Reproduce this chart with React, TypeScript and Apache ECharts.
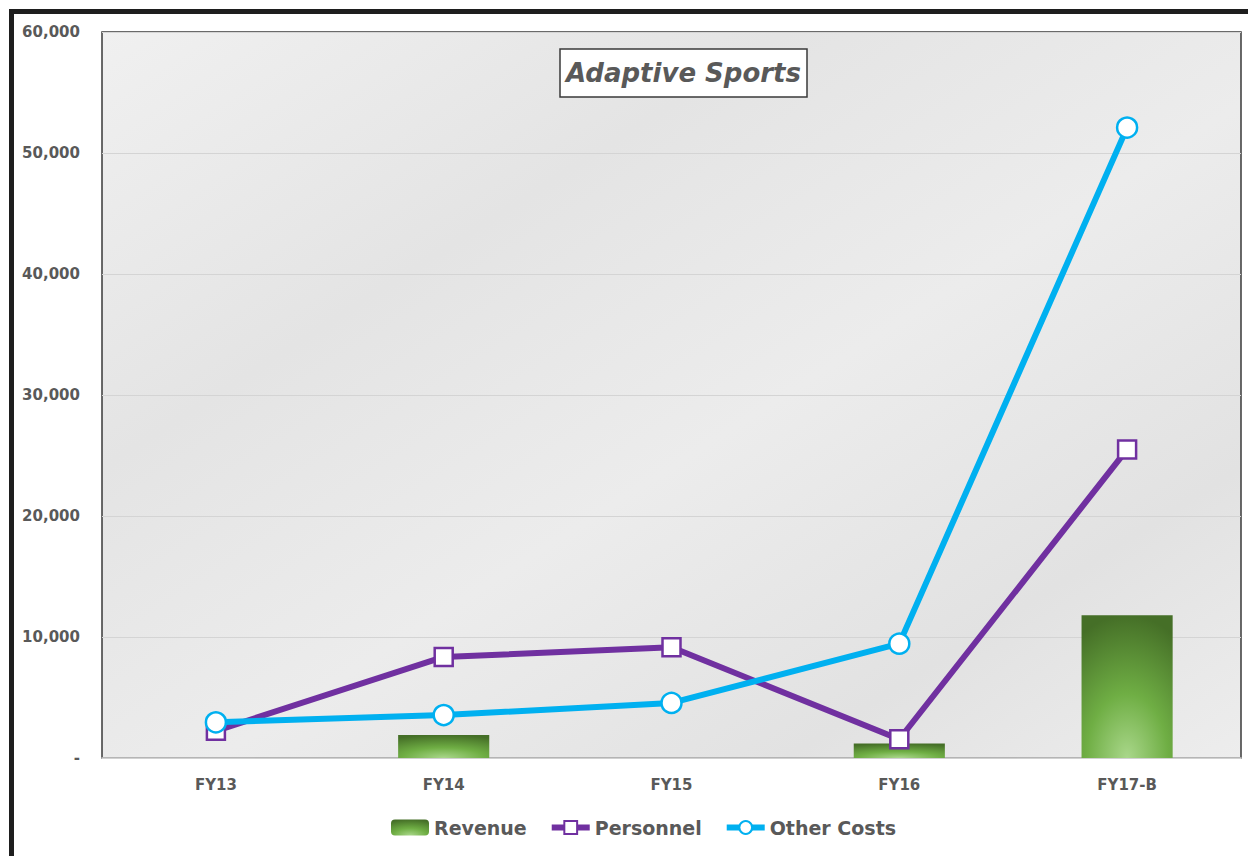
import React, { useEffect, useRef } from "react";
import * as echarts from "echarts";

const categories = ["FY13", "FY14", "FY15", "FY16", "FY17-B"];
const revenue = [0, 1900, 0, 1200, 11800];
const personnel = [2250, 8350, 9150, 1550, 25500];
const otherCosts = [2950, 3550, 4550, 9450, 52100];
const yTicks = [0, 10000, 20000, 30000, 40000, 50000, 60000];

const FONT = "'DejaVu Sans', sans-serif";
const GRAY = "#595959";

export default function App() {
  const ref = useRef<HTMLDivElement>(null);
  useEffect(() => {
    if (!ref.current) return;
    const chart = echarts.init(ref.current, undefined, { renderer: "svg" });
    const barColor = new echarts.graphic.RadialGradient(0.5, 1, 1, [
      { offset: 0, color: "#a9d78a" },
      { offset: 0.45, color: "#6fae44" },
      { offset: 1, color: "#456f27" },
    ]);
    chart.setOption({
      animation: false,
      backgroundColor: "#ffffff",
      title: {
        text: "Adaptive Sports",
        left: 560,
        top: 49,
        padding: [11, 6, 11, 6],
        backgroundColor: "#ffffff",
        borderColor: "#3a3a3a",
        borderWidth: 1.5,
        textStyle: {
          fontFamily: FONT,
          fontSize: 26,
          fontStyle: "italic",
          fontWeight: "bold",
          color: GRAY,
        },
      },
      graphic: [
        {
          type: "rect",
          shape: { x: 11.5, y: 11.5, width: 1400, height: 1000 },
          style: { fill: "none", stroke: "#1e1e1e", lineWidth: 5 },
          z: 100,
        },
      ],
      legend: {
        bottom: 14,
        left: 386,
        itemGap: 22,
        itemWidth: 38,
        itemHeight: 16,
        lineStyle: { width: 6 },
        textStyle: { fontFamily: FONT, fontSize: 19, fontWeight: "bold", color: GRAY },
        data: ["Revenue", "Personnel", "Other Costs"],
      },
      grid: {
        left: 102,
        right: 7,
        top: 32,
        bottom: 98,
        show: true,
        backgroundColor: new echarts.graphic.LinearGradient(0, 0, 1, 1, [
          { offset: 0, color: "#f0f0f0" },
          { offset: 0.3, color: "#e4e4e4" },
          { offset: 0.55, color: "#ececec" },
          { offset: 0.8, color: "#e2e2e2" },
          { offset: 1, color: "#ededed" },
        ]),
        borderColor: "#3a3a3a",
        borderWidth: 1.5,
      },
      xAxis: {
        type: "category",
        data: categories,
        axisLine: { show: true, lineStyle: { color: "#cfcfcf", width: 1.5 } },
        axisTick: { show: false },
        axisLabel: {
          margin: 19,
          fontFamily: FONT,
          fontSize: 15,
          fontWeight: "bold",
          color: GRAY,
        },
      },
      yAxis: {
        type: "value",
        min: yTicks[0],
        max: yTicks[yTicks.length - 1],
        interval: 10000,
        axisLine: { show: false },
        axisTick: { show: false },
        splitLine: { lineStyle: { color: "#d4d4d4", width: 1 } },
        axisLabel: {
          margin: 22,
          fontFamily: FONT,
          fontSize: 15,
          fontWeight: "bold",
          color: GRAY,
          formatter: (v: number) => (v === 0 ? "-" : v.toLocaleString("en-US")),
        },
      },
      series: [
        {
          name: "Revenue",
          type: "bar",
          data: revenue,
          barWidth: "40%",
          itemStyle: { color: barColor },
        },
        {
          name: "Personnel",
          type: "line",
          data: personnel,
          symbol: "rect",
          symbolSize: 18,
          lineStyle: { color: "#7030a0", width: 6 },
          itemStyle: { color: "#ffffff", borderColor: "#7030a0", borderWidth: 2.5 },
          z: 3,
        },
        {
          name: "Other Costs",
          type: "line",
          data: otherCosts,
          symbol: "circle",
          symbolSize: 20,
          lineStyle: { color: "#00b0f0", width: 6 },
          itemStyle: { color: "#ffffff", borderColor: "#00b0f0", borderWidth: 2.5 },
          z: 4,
        },
      ],
    });
    return () => chart.dispose();
  }, []);
  return (
    <div
      ref={ref}
      style={{ position: "fixed", left: 0, top: 0, width: 1248, height: 856 }}
    />
  );
}
